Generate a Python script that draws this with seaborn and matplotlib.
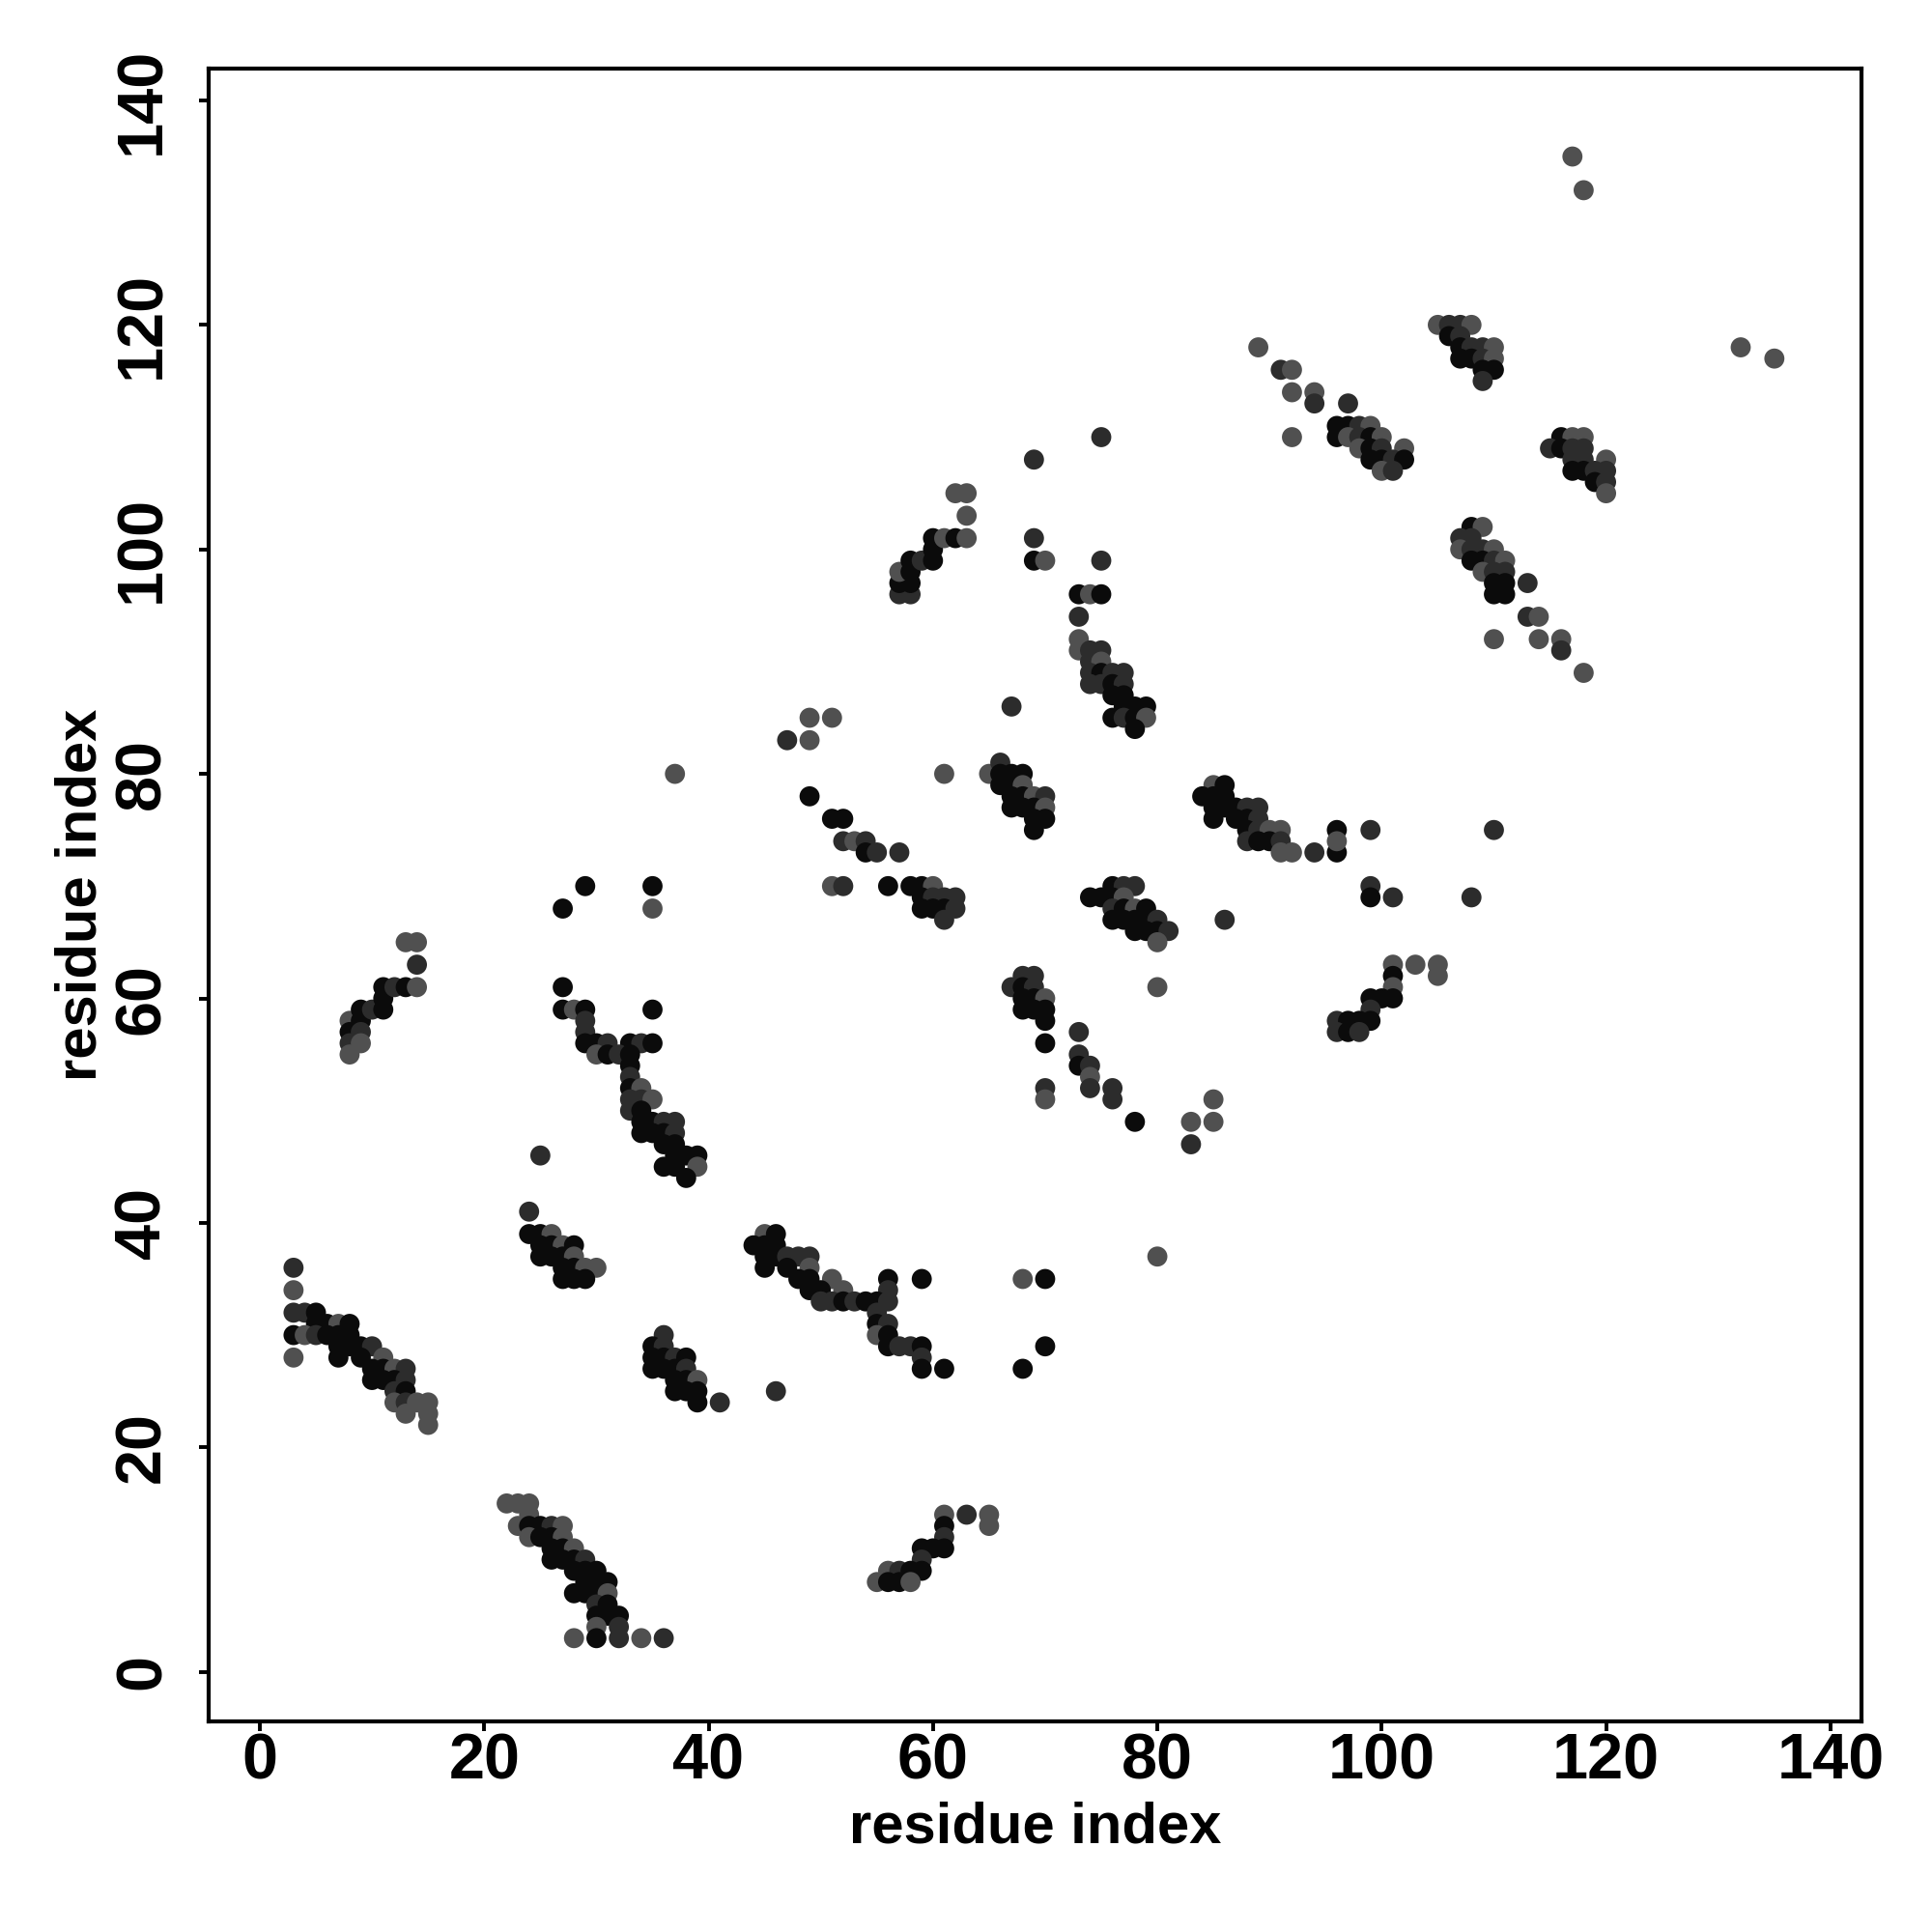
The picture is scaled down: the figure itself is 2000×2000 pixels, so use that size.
import matplotlib
matplotlib.use("Agg")
import matplotlib.pyplot as plt
import seaborn as sns
import pandas as pd

# contacts (residue i, residue j, shade level 0=black 1=dark grey 2=grey)
c01 = [(3,36,1),(3,34,2),(3,32,1),(4,32,1),(5,32,0),(5,31,0),(6,31,0),(7,31,2),(8,31,0),
       (3,30,0),(4,30,2),(5,30,1),(6,30,0),(7,30,0),(8,30,0),(7,29,0),(8,29,0),(9,29,0),
       (10,29,1),(3,28,2),(7,28,0),(9,28,0),(11,28,2),(10,27,0),(11,27,0),(12,27,2),(13,27,1),
       (10,26,0),(11,26,0),(12,26,0),(13,26,1),(12,25,1),(13,25,0),(12,24,2),(13,24,1),
       (14,24,2),(15,24,2),(13,23,2),(15,23,2),(15,22,2)]
c02 = [(8,58,2),(8,57,0),(8,56,1),(8,55,2),(9,59,0),(9,58,0),(9,57,1),(9,56,2),(10,59,1),
       (11,61,0),(11,60,0),(11,59,0),(12,61,1),(13,61,0),(14,61,2),(14,63,1),(13,65,2),(14,65,2)]
c03 = [(22,15,2),(23,15,2),(24,15,2),(24,14,2),(23,13,2),(24,13,0),(25,13,0),(26,13,1),
       (27,13,2),(24,12,2),(25,12,0),(26,12,0),(27,12,2),(26,11,0),(27,11,0),(28,11,2),
       (26,10,0),(27,10,0),(28,10,0),(29,10,1),(28,9,0),(29,9,0),(30,9,0),(29,8,0),(30,8,0),
       (31,8,0),(28,7,0),(29,7,0),(30,7,0),(31,7,2),(30,6,1),(31,6,0),(30,5,0),(31,5,0),
       (32,5,0),(30,4,2),(32,4,1),(28,3,2),(30,3,0),(32,3,1),(34,3,2),(36,3,1)]
c04 = [(24,41,1),(24,39,0),(25,39,0),(26,39,2),(25,38,0),(26,38,0),(27,38,2),(28,38,0),
       (25,37,0),(26,37,0),(27,37,0),(28,37,2),(27,36,0),(28,36,0),(29,36,2),(30,36,2),
       (27,35,0),(28,35,0),(29,35,0),(25,46,1)]
c05 = [(36,30,1),(35,29,0),(36,29,1),(35,28,0),(36,28,0),(37,28,1),(38,28,0),(35,27,0),
       (36,27,0),(37,27,0),(38,27,1),(37,26,0),(38,26,0),(39,26,2),(37,25,0),(38,25,0),
       (39,25,0),(39,24,0),(41,24,1)]
c06 = [(29,70,0),(27,68,0),(35,70,0),(35,68,2),(27,61,0),(27,59,0),(28,59,2),(29,59,0),
       (35,59,0),(29,58,1),(29,57,1),(29,56,0),(30,56,0),(31,56,1),(33,56,0),(34,56,1),
       (35,56,0),(30,55,2),(31,55,0),(32,55,1),(33,55,0),(33,54,0),(33,53,1),(33,52,0),
       (34,52,2),(33,51,1),(34,51,1),(35,51,2),(33,50,1),(34,50,0),(34,49,0),(35,49,0),
       (36,49,1),(37,49,1),(34,48,0),(35,48,0),(36,48,0),(37,48,1),(36,47,0),(37,47,0),
       (37,46,0),(38,46,0),(39,46,0),(36,45,0),(37,45,0),(39,45,2),(38,44,0)]
c07 = [(45,39,2),(46,39,0),(44,38,0),(45,38,0),(46,38,0),(45,37,0),(46,37,0),(47,37,1),
       (48,37,1),(49,37,1),(45,36,0),(47,36,0),(49,36,2),(48,35,0),(49,35,0),(51,35,2),
       (56,35,0),(59,35,0),(49,34,0),(50,34,0),(52,34,2),(56,34,1),(50,33,1),(51,33,1),
       (52,33,0),(53,33,1),(54,33,0),(55,33,0),(56,33,1),(55,32,1),(55,31,0),(56,31,1),
       (55,30,2),(56,30,0),(56,29,0),(57,29,1),(58,29,1),(59,29,0),(59,28,1),(59,27,0),
       (61,27,0),(46,25,1),(68,35,2),(70,35,0),(70,29,0),(68,27,0)]
c08 = [(61,14,2),(63,14,1),(65,14,2),(61,13,0),(65,13,2),(61,12,1),(59,11,0),(60,11,0),
       (61,11,0),(59,10,1),(56,9,2),(57,9,1),(58,9,0),(59,9,0),(55,8,2),(56,8,0),(57,8,0),
       (58,8,2)]
c09 = [(49,85,2),(51,85,2),(47,83,1),(49,83,2),(49,78,0),(51,76,0),(52,76,0),(52,74,1),
       (53,74,2),(54,74,1),(54,73,0),(55,73,1),(57,73,1),(51,70,2),(52,70,1),(56,70,0),
       (58,70,0),(59,70,0),(60,70,2),(59,69,0),(60,69,1),(61,69,1),(62,69,1),(59,68,0),
       (60,68,0),(61,68,0),(62,68,1),(61,67,1),(37,80,2)]
c10 = [(61,80,2),(65,80,2),(66,81,1),(66,80,0),(67,80,0),(68,80,0),(66,79,0),(67,79,0),
       (68,79,2),(67,78,0),(68,78,0),(69,78,2),(70,78,1),(67,77,0),(68,77,0),(69,77,0),
       (70,77,2),(69,76,0),(70,76,0),(69,75,0),(67,86,1)]
c11 = [(57,96,1),(58,96,1),(57,97,0),(58,97,0),(57,98,2),(58,98,0),(58,99,0),(59,99,1),
       (60,99,0),(60,100,0),(60,101,0),(61,101,2),(62,101,0),(63,101,2),(63,103,2),
       (62,105,2),(63,105,2),(69,108,1),(75,110,1),(69,101,1),(69,99,0),(70,99,2),(75,99,1)]
c12 = [(73,96,0),(74,96,2),(75,96,0),(73,94,1),(73,92,2),(73,91,2),(74,91,1),(75,91,1),
       (74,90,1),(75,90,2),(74,89,1),(75,89,0),(76,89,1),(77,89,1),(74,88,1),(75,88,1),
       (76,88,0),(77,88,1),(76,87,0),(77,87,0),(77,86,0),(78,86,0),(79,86,0),(76,85,0),
       (77,85,1),(78,85,0),(79,85,2),(78,84,0)]
c13 = [(76,70,0),(77,70,1),(78,70,1),(74,69,0),(75,69,0),(76,69,0),(77,69,2),(76,68,1),
       (77,68,0),(78,68,2),(79,68,0),(76,67,0),(77,67,0),(78,67,0),(79,67,0),(80,67,1),
       (78,66,0),(79,66,0),(80,66,0),(81,66,1),(80,65,2),(80,61,2)]
c14 = [(68,62,1),(69,62,1),(67,61,1),(68,61,0),(69,61,1),(68,60,0),(69,60,0),(70,60,2),
       (68,59,0),(69,59,0),(70,59,0),(70,58,0),(70,56,0),(70,52,1),(70,51,2),(73,57,1),
       (73,55,1),(73,54,0),(74,54,1),(74,53,2),(74,52,1),(76,52,1),(76,51,1),(78,49,0),
       (83,49,2),(83,47,1),(85,51,2),(85,49,2),(80,37,2)]
c15 = [(85,79,2),(86,79,0),(84,78,0),(85,78,0),(86,78,0),(85,77,0),(86,77,0),(87,77,0),
       (88,77,1),(89,77,1),(85,76,0),(87,76,0),(88,76,0),(89,76,1),(88,75,0),(89,75,1),
       (90,75,2),(91,75,2),(88,74,1),(89,74,0),(90,74,0),(91,74,1),(91,73,2),(92,73,2),
       (94,73,1),(96,73,0),(96,75,0),(96,74,2),(99,75,1),(110,75,1),(99,70,1),(99,69,0),
       (101,69,1),(108,69,1),(86,67,1)]
c16 = [(101,63,2),(103,63,2),(105,63,2),(101,62,0),(105,62,2),(101,61,2),(99,60,0),
       (100,60,0),(101,60,0),(99,59,1),(96,58,1),(97,58,0),(98,58,0),(99,58,0),(96,57,1),
       (97,57,0),(98,57,1)]
c17 = [(89,118,2),(91,116,1),(92,116,2),(92,114,2),(94,114,2),(94,113,1),(97,113,1),
       (92,110,2),(96,111,0),(97,111,0),(98,111,1),(99,111,2),(96,110,0),(97,110,2),
       (98,110,1),(99,110,0),(100,110,2),(98,109,2),(99,109,0),(100,109,1),(102,109,2),
       (99,108,0),(100,108,0),(101,108,1),(102,108,0),(100,107,2),(101,107,1)]
c18 = [(105,120,2),(106,120,1),(107,120,1),(108,120,2),(106,119,0),(107,119,1),(107,118,0),
       (108,118,1),(109,118,1),(110,118,2),(107,117,0),(108,117,0),(109,117,1),(110,117,2),
       (109,116,0),(110,116,0),(109,115,1)]
c19 = [(116,110,0),(117,110,2),(118,110,2),(115,109,1),(116,109,0),(117,109,1),(118,109,1),
       (117,108,1),(118,108,1),(120,108,2),(117,107,0),(118,107,0),(119,107,1),(120,107,1),
       (119,106,0),(120,106,1),(120,105,2)]
c20 = [(108,102,0),(109,102,2),(107,101,1),(108,101,1),(107,100,2),(108,100,1),(109,100,1),
       (110,100,2),(108,99,0),(109,99,0),(110,99,1),(111,99,2),(109,98,2),(110,98,1),
       (111,98,1),(110,97,0),(111,97,0),(113,97,1),(110,96,0),(111,96,0),(113,94,1),
       (114,94,2),(110,92,2),(114,92,2),(116,92,2),(116,91,1),(118,89,2)]
c21 = [(117,135,2),(118,132,2),(132,118,2),(135,117,2)]

clusters = [c01, c02, c03, c04, c05, c06, c07, c08, c09, c10,
            c11, c12, c13, c14, c15, c16, c17, c18, c19, c20, c21]
shade_colors = {0: "#0b0b0b", 1: "#2c2c2c", 2: "#505050"}

df = pd.DataFrame([p for c in clusters for p in c], columns=["i", "j", "level"])

sns.set_style("white")
plt.rcParams["font.family"] = ["Liberation Sans", "DejaVu Sans"]
plt.rcParams["font.weight"] = "bold"
plt.rcParams["text.color"] = "black"
plt.rcParams["axes.labelcolor"] = "black"
plt.rcParams["xtick.color"] = "black"
plt.rcParams["ytick.color"] = "black"

fig = plt.figure(figsize=(10, 10), dpi=200)
ax = fig.add_axes([0.1078, 0.1091, 0.8559, 0.8552])
sns.scatterplot(data=df, x="i", y="j", hue="level", palette=shade_colors,
                s=56, linewidth=0, legend=False, ax=ax)

ax.set_xlim(-4.6, 142.8)
ax.set_ylim(-4.4, 142.8)
ax.set_xticks(range(0, 141, 20))
ax.set_yticks(range(0, 141, 20))
for sp in ax.spines.values():
    sp.set_visible(True)
    sp.set_color("black")
    sp.set_linewidth(1.5)
ax.tick_params(axis="both", direction="out", length=3.5, width=1.4, colors="black",
               labelsize=24, bottom=True, left=True)
ax.tick_params(axis="x", pad=0.8)
ax.tick_params(axis="y", pad=9.5)
for lab in ax.get_yticklabels():
    lab.set_rotation(90)
    lab.set_va("center")
    lab.set_fontweight("bold")
for lab in ax.get_xticklabels():
    lab.set_fontweight("bold")
ax.set_xlabel("residue index", fontsize=21.5, fontweight="bold", labelpad=3, color="black")
ax.set_ylabel("residue index", fontsize=21.5, fontweight="bold", labelpad=2, color="black")

fig.savefig("out.png", dpi=200, facecolor="white")
